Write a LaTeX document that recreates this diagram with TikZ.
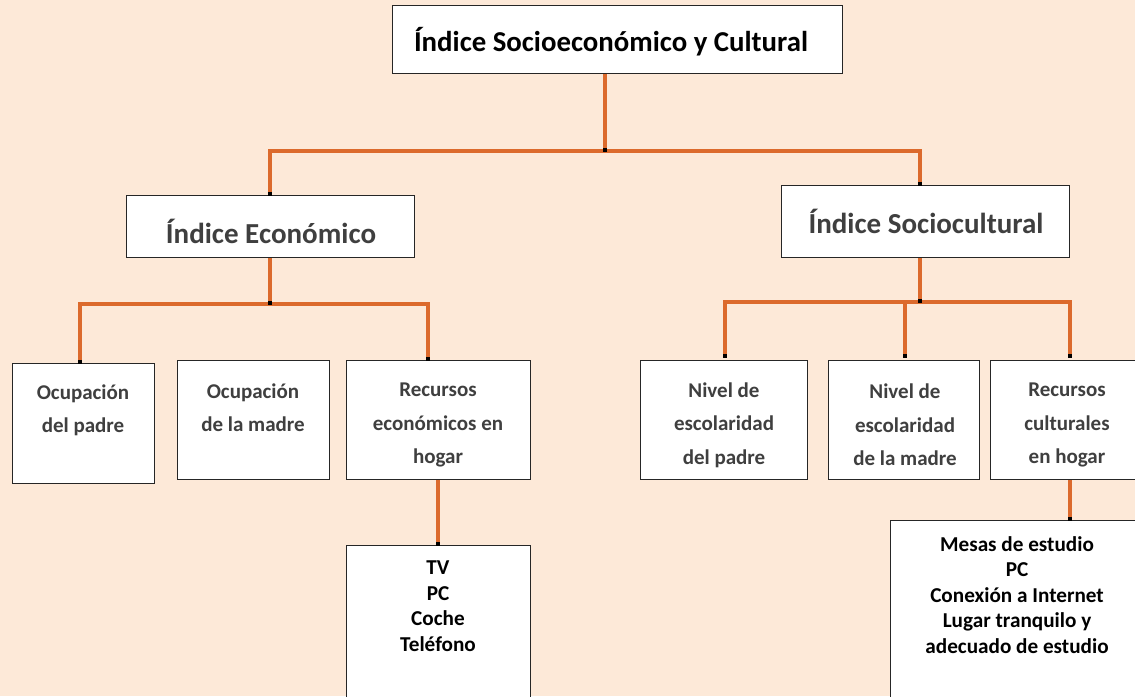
\documentclass[tikz,border=0pt]{standalone}
\usepackage{fontspec}
\setmainfont{Carlito}
\definecolor{bg}{HTML}{FDE9D8}
\definecolor{ora}{HTML}{DC6A2C}
\definecolor{txt}{HTML}{3F3F3F}
\begin{document}
\begin{tikzpicture}[x=1pt,y=-1pt,
  box/.style={draw=black!85, line width=1pt, fill=white, inner sep=0pt, anchor=north west},
  conn/.style={draw=ora, line width=4.5pt},
  dot/.style={fill=black, minimum size=4pt, inner sep=0pt},
  big/.style={font=\bfseries\fontsize{28.8}{34}\selectfont, text=black},
  mid/.style={font=\bfseries\fontsize{29}{34}\selectfont, text=txt},
  small/.style={font=\bfseries\fontsize{21}{33.3}\selectfont, text=txt, align=center},
  list/.style={font=\bfseries\fontsize{21.2}{25.5}\selectfont, text=black, align=center}]
\useasboundingbox (0,0) rectangle (1135,696);
\clip (0,0) rectangle (1135,696);
\fill[bg] (0,0) rectangle (1135,696);
% boxes
\node[box, minimum width=450pt, minimum height=68pt] (top) at (392,5) {};
\node[box, minimum width=288pt, minimum height=62pt] (eco) at (126,195) {};
\node[box, minimum width=288pt, minimum height=72pt] (soc) at (781,185) {};
\node[box, minimum width=142pt, minimum height=120pt] (op) at (12,363) {};
\node[box, minimum width=152pt, minimum height=119pt] (om) at (177,360) {};
\node[box, minimum width=184pt, minimum height=119pt] (re) at (346,360) {};
\node[box, minimum width=167pt, minimum height=119pt] (np) at (640,360) {};
\node[box, minimum width=151pt, minimum height=119pt] (nm) at (828,360) {};
\node[box, minimum width=160pt, minimum height=119pt] (rc) at (990,360) {};
\node[box, minimum width=184pt, minimum height=170pt] (tv) at (346,545) {};
\node[box, minimum width=260pt, minimum height=190pt] (ms) at (890,520) {};
% texts
\node[big] (ttop) at (611,42) {Índice Socioeconómico y Cultural};
\node[mid] (teco) at (271,231) {Índice Económico};
\node[mid] (tsoc) at (926,221) {Índice Sociocultural};
\node[small] (top_) at (83,410) {Ocupación\\del padre};
\node[small] (tom) at (253,408) {Ocupación\\de la madre};
\node[small] (tre) at (438,425) {Recursos\\económicos en\\hogar};
\node[small] (tnp) at (724,425) {Nivel de\\escolaridad\\del padre};
\node[small] (tnm) at (905,425) {Nivel de\\escolaridad\\de la madre};
\node[small] (trc) at (1067,425) {Recursos\\culturales\\en hogar};
\node[list] (ttv) at (438,606) {TV\\PC\\Coche\\Teléfono};
\node[list] (tms) at (1017,595) {Mesas de estudio\\PC\\Conexión a Internet\\Lugar tranquilo y\\adecuado de estudio};
% junctions and attach points
\coordinate (j1) at (605,151);
\coordinate (j2) at (270,304);
\coordinate (j3) at (920,302);
\coordinate (aeco) at (270,195);
\coordinate (asoc) at (920,185);
\coordinate (aop) at (80,363);
\coordinate (are) at (428,360);
\coordinate (anp) at (725,357);
\coordinate (anm) at (905,357);
\coordinate (arc) at (1070,357);
\coordinate (atv) at (438,545);
\coordinate (ams) at (1070,520);
% connectors
\draw[conn] (top.south -| j1) -- (j1);
\draw[conn] (aeco) |- (j1) -| (asoc);
\draw[conn] (eco.south -| j2) -- (j2);
\draw[conn] (aop) |- (j2) -| (are);
\draw[conn] (soc.south -| j3) -- (j3);
\draw[conn] (anp) |- (j3) -| (arc);
\draw[conn] (anm) -- (anm |- j3);
\draw[conn] (re.south -| atv) -- (atv);
\draw[conn] (rc.south -| ams) -- (ams);
% dots
\foreach \p/\n in {j1/d1, aeco/d2, asoc/d3, j2/d4, aop/d5, are/d6, j3/d7, anp/d8, anm/d9, arc/d10, atv/d11, ams/d12}
  \node[dot] (\n) at ([yshift=1pt]\p) {};
\end{tikzpicture}
\end{document}
